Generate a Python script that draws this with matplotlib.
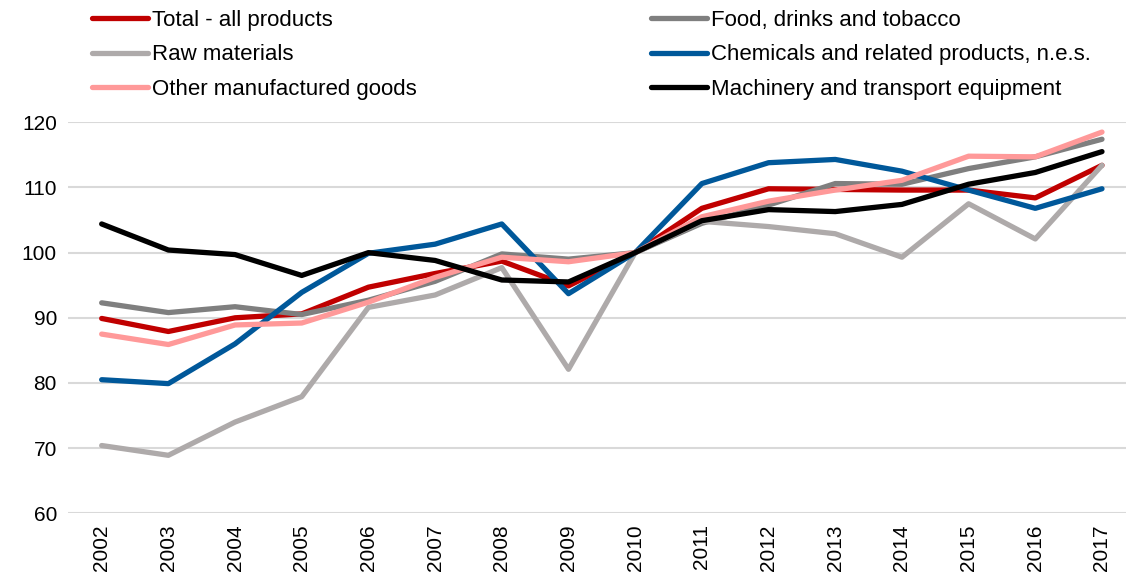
import numpy as np
import matplotlib
matplotlib.use("Agg")
from matplotlib import pyplot as plt

plt.rcParams['font.family'] = ['Liberation Sans Narrow', 'Liberation Sans', 'DejaVu Sans']

years = [str(y) for y in range(2002, 2018)]

total = [89.9, 87.9, 90.0, 90.6, 94.7, 96.8, 98.7, 94.9, 100.0, 106.8, 109.8, 109.7, 109.6, 109.6, 108.4, 113.4]
food = [92.3, 90.8, 91.7, 90.5, 92.7, 95.6, 99.8, 99.0, 100.0, 104.5, 107.3, 110.6, 110.5, 112.9, 114.7, 117.4]
raw = [70.4, 68.9, 74.0, 77.9, 91.6, 93.5, 97.7, 82.1, 100.0, 104.8, 104.0, 102.9, 99.3, 107.5, 102.1, 113.4]
chem = [80.5, 79.9, 86.0, 93.9, 99.9, 101.3, 104.4, 93.7, 100.0, 110.6, 113.8, 114.3, 112.5, 109.6, 106.8, 109.8]
other = [87.5, 85.9, 88.9, 89.2, 92.4, 96.2, 99.3, 98.6, 100.0, 105.5, 107.9, 109.6, 111.1, 114.8, 114.7, 118.5]
mach = [104.4, 100.4, 99.7, 96.5, 100.0, 98.8, 95.8, 95.5, 100.0, 104.9, 106.6, 106.3, 107.4, 110.5, 112.3, 115.5]

names = ["Total - all products", "Food, drinks and tobacco", "Raw materials",
         "Chemicals and related products, n.e.s.", "Other manufactured goods",
         "Machinery and transport equipment"]
series = [total, food, raw, chem, other, mach]
colors = ["#C00000", "#7F7F7F", "#AEAAAA", "#00589A", "#FF9999", "#000000"]

fig = plt.figure(figsize=(11.26, 5.78), dpi=100)
ax = fig.add_axes([68/1126, 1-513.3/578, 1-68/1126, (513.3-122.3)/578])

x = np.arange(len(years))
lines = []
for s, c, n in zip(series, colors, names):
    l, = ax.plot(x, s, color=c, lw=3.8, label=n, solid_capstyle='round', solid_joinstyle='round')
    lines.append(l)

ax.set_xlim(-0.505, 15.36)
ax.set_ylim(60, 120)
ax.set_yticks(range(60, 121, 10))
ax.set_xticks(x)
ax.set_xticklabels(years, rotation=90)
ax.tick_params(length=0, labelsize=15, pad=8)
ax.grid(axis='y', color='#D9D9D9', lw=1.5)
ax.set_axisbelow(True)
for sp in ax.spines.values():
    sp.set_visible(False)

kw = dict(loc='upper left', frameon=False, fontsize=16, handlelength=2.5,
          handletextpad=0.2, labelspacing=0.6, borderpad=0, borderaxespad=0)
leg1 = fig.legend([lines[0], lines[2], lines[4]], [names[0], names[2], names[4]],
                  bbox_to_anchor=(92/1126, 1-10/578), **kw)
leg2 = fig.legend([lines[1], lines[3], lines[5]], [names[1], names[3], names[5]],
                  bbox_to_anchor=(651/1126, 1-10/578), **kw)

fig.savefig("out.png", dpi=100)
